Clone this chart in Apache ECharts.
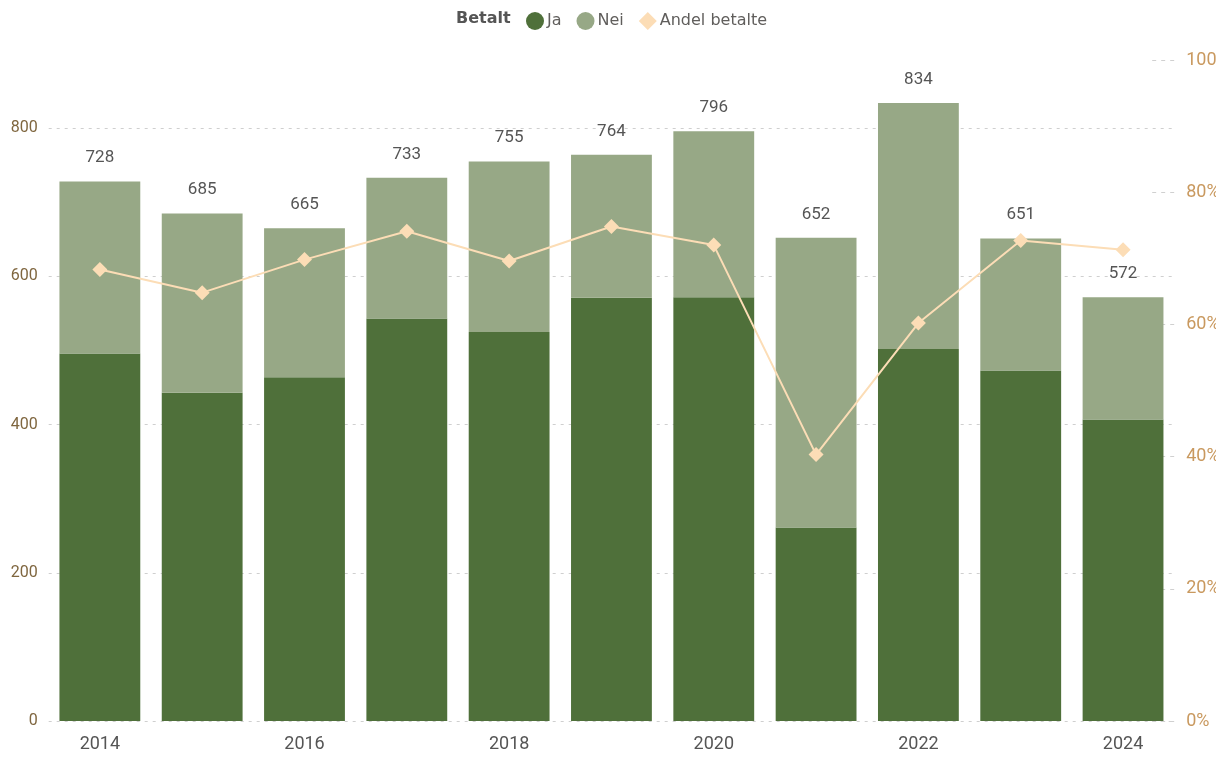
<!DOCTYPE html>
<html>
<head>
<meta charset="utf-8">
<script src="https://cdn.jsdelivr.net/npm/echarts/dist/echarts.min.js"></script>
<style>
html,body{margin:0;padding:0;background:#fff;}
#chart{width:1216px;height:759px;}
</style>
</head>
<body>
<div id="chart"></div>
<script>
const years = ['2014','2015','2016','2017','2018','2019','2020','2021','2022','2023','2024'];
const ja  = [496, 443, 464, 543, 525, 571, 572, 261, 502, 473, 407];
const nei = [232, 242, 201, 190, 230, 193, 224, 391, 332, 178, 165];
const andel = [0.683, 0.648, 0.698, 0.741, 0.696, 0.748, 0.720, 0.403, 0.602, 0.727, 0.713];
const leftTicks = [0, 200, 400, 600, 800];
const rightTicks = [0, 0.2, 0.4, 0.6, 0.8, 1.0];

const chart = echarts.init(document.getElementById('chart'));
const fontMain = 'Roboto, "Noto Sans", sans-serif';
const fontLegend = '"DejaVu Sans", "Noto Sans", sans-serif';
const option = {
  animation: false,
  title: {
    text: 'Betalt', left: 451, top: 6,
    textStyle: {fontSize: 16, fontWeight: 'bold', color: '#555', fontFamily: fontLegend}
  },
  legend: {
    left: 521, top: 7, itemGap: 15, itemWidth: 18, itemHeight: 18,
    textStyle: {fontSize: 16, color: '#605E5C', fontFamily: fontLegend, padding: [0,0,0,-2]},
    data: [
      {name: 'Ja', icon: 'circle'},
      {name: 'Nei', icon: 'circle'},
      {name: 'Andel betalte', icon: 'diamond'}
    ]
  },
  grid: {left: 48.7, right: 41.8, top: 60, bottom: 38, containLabel: false, outerBoundsMode: 'none'},
  xAxis: {
    type: 'category', data: years,
    axisLine: {show: false}, axisTick: {show: false},
    axisLabel: {interval: 1, fontSize: 18, color: '#555', margin: 14,
      fontFamily: fontMain}
  },
  yAxis: [
    {
      type: 'value', min: 0, max: 892, interval: 200,
      axisLine: {show: false}, axisTick: {show: false},
      axisLabel: {fontSize: 16, color: '#7f663f', margin: 11, fontFamily: fontMain,
        showMaxLabel: false,
        formatter: v => leftTicks.includes(v) ? String(v) : ''},
      splitLine: {show: true, showMaxLine: false,
        lineStyle: {color: '#cfcfcf', type: [3,5], width: 1}}
    },
    {
      type: 'value', min: 0, max: 1, interval: 0.2, position: 'right',
      axisLine: {show: false},
      axisTick: {show: true, inside: true, length: 22,
        lineStyle: {color: '#d0d0d0', type: [4,5]}},
      axisLabel: {fontSize: 18, color: '#c9995f', margin: 12, fontFamily: fontMain,
        formatter: v => rightTicks.some(t => Math.abs(t - v) < 1e-9) ? Math.round(v*100) + '%' : ''},
      splitLine: {show: false}
    }
  ],
  series: [
    {
      name: 'Ja', type: 'bar', stack: 'tot', data: ja, barWidth: '79%',
      itemStyle: {color: '#4F703A'}
    },
    {
      name: 'Nei', type: 'bar', stack: 'tot', data: nei,
      itemStyle: {color: '#97A886'},
      label: {show: true, position: 'top', distance: 15, fontSize: 17, color: '#555',
        fontFamily: fontMain,
        formatter: p => String(ja[p.dataIndex] + nei[p.dataIndex])}
    },
    {
      name: 'Andel betalte', type: 'line', yAxisIndex: 1, data: andel,
      symbol: 'diamond', symbolSize: 15, z: 5,
      lineStyle: {color: '#FCDDB6', width: 2},
      itemStyle: {color: '#FCDDB6'}
    }
  ]
};
chart.setOption(option);
</script>
</body>
</html>
